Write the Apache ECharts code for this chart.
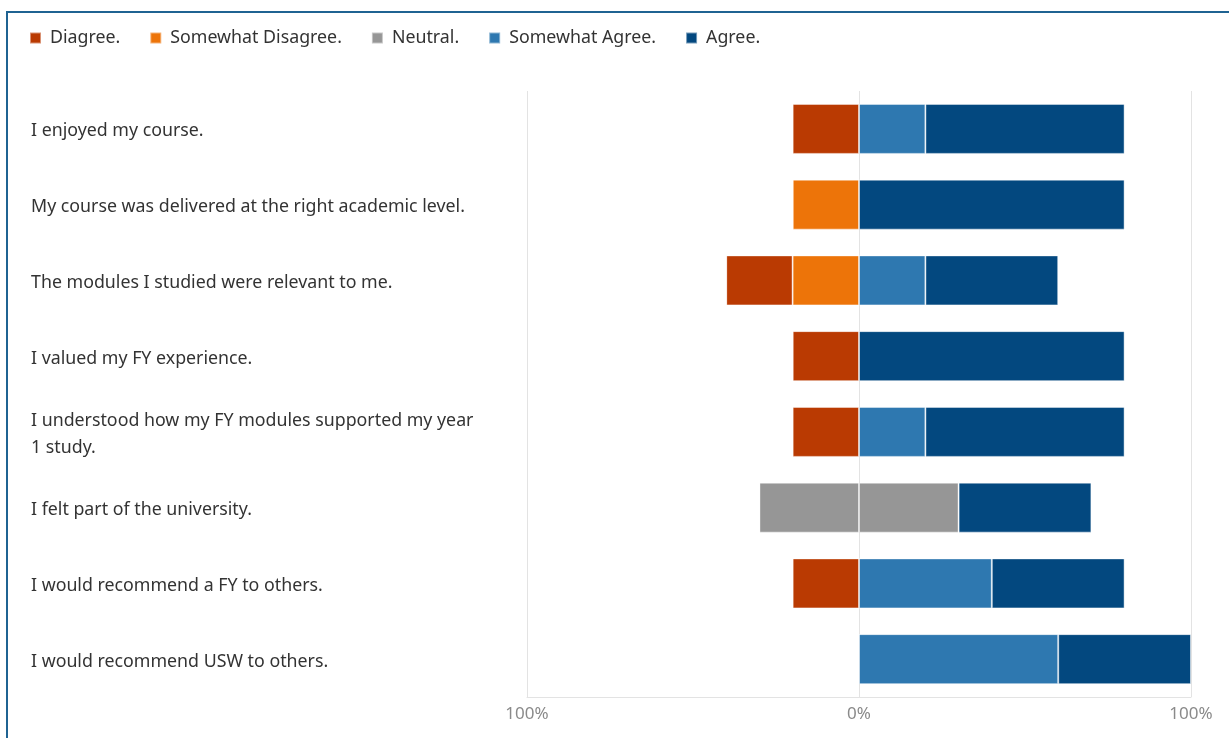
<!DOCTYPE html>
<html>
<head>
<meta charset="utf-8">
<script src="https://cdn.jsdelivr.net/npm/echarts@6/dist/echarts.min.js"></script>
<style>
  html, body { margin: 0; padding: 0; background: #fff; overflow: hidden; }
  #chart { position: absolute; left: 0; top: 0; width: 1229px; height: 738px; }
  #frame {
    position: absolute; left: 6px; top: 11px; width: 1400px; height: 900px;
    border-left: 2px solid #1f6392; border-top: 2px solid #1f6392;
    pointer-events: none;
  }
</style>
</head>
<body>
<div id="chart"></div>
<div id="frame"></div>
<script>
// questions (top to bottom)
const statements = [
  'I enjoyed my course.',
  'My course was delivered at the right academic level.',
  'The modules I studied were relevant to me.',
  'I valued my FY experience.',
  'I understood how my FY modules supported my year\n1 study.',
  'I felt part of the university.',
  'I would recommend a FY to others.',
  'I would recommend USW to others.'
];

// percentages of responses per statement
const disagree         = [20, 0, 20, 20, 20, 0, 20, 0];
const somewhatDisagree = [0, 20, 20, 0, 0, 0, 0, 0];
const neutral          = [0, 0, 0, 0, 0, 60, 0, 0];
const somewhatAgree    = [20, 0, 20, 0, 20, 0, 40, 60];
const agree            = [60, 80, 40, 80, 60, 40, 40, 40];

const axisTicks = [-100, 0, 100];

const colors = {
  disagree: '#ba3a02',
  somewhatDisagree: '#ed7409',
  neutral: '#969696',
  somewhatAgree: '#2e78b0',
  agree: '#03487f'
};

const FONT = '"Noto Sans", "Open Sans", sans-serif';

let chart = echarts.init(document.getElementById('chart'));

// neutral is split across the zero line
const neg = v => v.map(x => -x);
const half = v => v.map(x => x / 2);

function barSeries(name, data, color) {
  return {
    name: name,
    type: 'bar',
    stack: 'likert',
    barWidth: 50,
    data: data,
    itemStyle: { color: color, borderColor: 'rgba(255,255,255,0.45)', borderWidth: 1 },
    emphasis: { disabled: true }
  };
}

let option = {
  animation: false,
  textStyle: { fontFamily: FONT },
  legend: {
    left: 24,
    top: 24,
    itemWidth: 11,
    itemHeight: 11,
    itemGap: 29,
    icon: 'rect',
    textStyle: { fontSize: 17.8, color: '#333', fontFamily: FONT, padding: [0, 0, 0, 4] },
    data: ['Diagree.', 'Somewhat Disagree.', 'Neutral.', 'Somewhat Agree.', 'Agree.']
  },
  grid: { left: 527, right: 38, top: 91, bottom: 41, containLabel: false },
  xAxis: {
    type: 'value',
    min: axisTicks[0],
    max: axisTicks[axisTicks.length - 1],
    interval: 100,
    axisLine: { show: true, lineStyle: { color: '#e3e3e3' } },
    axisTick: { show: false },
    splitLine: { show: true, lineStyle: { color: '#e3e3e3', width: 1 } },
    axisLabel: {
      formatter: v => Math.abs(v) + '%',
      color: '#8a8a8a',
      fontSize: 17,
      margin: 9,
      fontFamily: FONT
    }
  },
  yAxis: {
    type: 'category',
    inverse: true,
    data: statements,
    axisLine: { show: false },
    axisTick: { show: false },
    splitLine: { show: false },
    axisLabel: {
      align: 'left',
      margin: 496,
      formatter: v => v.split('\n').map(s => '{q|' + s + '}').join('\n'),
      rich: {
        q: {
          color: '#333',
          fontSize: 17.8,
          lineHeight: 27,
          padding: [5, 0, 0, 0],
          fontFamily: FONT
        }
      }
    }
  },
  series: [
    barSeries('Neutral.', neg(half(neutral)), colors.neutral),
    barSeries('Somewhat Disagree.', neg(somewhatDisagree), colors.somewhatDisagree),
    barSeries('Diagree.', neg(disagree), colors.disagree),
    barSeries('Neutral.', half(neutral), colors.neutral),
    barSeries('Somewhat Agree.', somewhatAgree, colors.somewhatAgree),
    barSeries('Agree.', agree, colors.agree)
  ]
};

chart.setOption(option);
</script>
</body>
</html>
